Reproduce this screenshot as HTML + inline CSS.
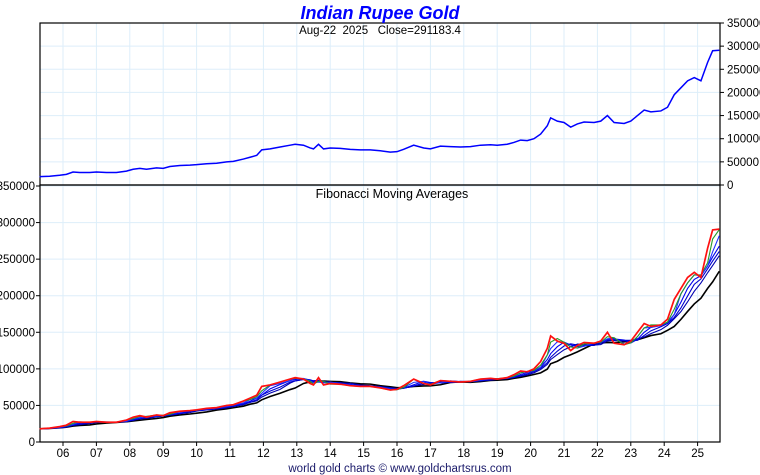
<!DOCTYPE html>
<html><head><meta charset="utf-8"><style>
body{margin:0;background:#fff;}
svg{display:block;font-family:"Liberation Sans",sans-serif;}
</style></head><body>
<svg id="c" width="760" height="475"></svg>
<script>
const dates=[2005.3,2005.6,2005.9,2006.1,2006.3,2006.5,2006.8,2007.0,2007.3,2007.6,2007.9,2008.1,2008.3,2008.5,2008.8,2009.0,2009.2,2009.5,2009.8,2010.0,2010.3,2010.6,2010.9,2011.1,2011.4,2011.6,2011.8,2011.95,2012.2,2012.5,2012.8,2012.95,2013.2,2013.4,2013.5,2013.65,2013.8,2014.0,2014.3,2014.6,2014.9,2015.2,2015.5,2015.8,2016.0,2016.2,2016.5,2016.8,2017.0,2017.3,2017.6,2017.9,2018.2,2018.5,2018.8,2019.0,2019.3,2019.5,2019.7,2019.9,2020.1,2020.3,2020.5,2020.6,2020.8,2021.0,2021.2,2021.4,2021.6,2021.9,2022.1,2022.3,2022.5,2022.8,2023.0,2023.2,2023.4,2023.6,2023.9,2024.1,2024.3,2024.5,2024.7,2024.9,2025.1,2025.3,2025.45,2025.65];
const prices=[18,19,21,23,28,27,27,28,27,27,30,34,36,34,37,36,40,42,43,44,46,47,50,51,56,60,64,76,78,82,86,88,86,80,78,88,78,80,79,77,76,76,74,71,72,77,86,80,78,84,83,82,83,86,87,86,88,92,97,96,100,110,128,145,138,135,125,132,136,135,138,150,135,133,138,150,162,158,160,168,195,210,225,232,225,265,290,291].map(v=>v*1000);
const xTicks=['06','07','08','09','10','11','12','13','14','15','16','17','18','19','20','21','22','23','24','25'];
const yTicks=[0,50000,100000,150000,200000,250000,300000,350000];
const maWindows=[0.25,0.4,0.6,0.8,1.0,1.6];
const maColors=['#2a9a2a','#2030ff','#0000ee','#0000d0','#0000b0','#000000'];

const S=document.getElementById('c'),NS='http://www.w3.org/2000/svg';
function el(t,a,p){const e=document.createElementNS(NS,t);for(const k in a)e.setAttribute(k,a[k]);(p||S).appendChild(e);return e;}
const L=40,R=720;
const X=d=>63+(d-2006)*33.4;
const Yt=v=>185-v*162/350000;
const Yb=v=>442-v*256/350000;

const g=el('g',{});
xTicks.forEach((t,i)=>{const x=X(2006+i);
 el('line',{x1:x,x2:x,y1:23,y2:185,stroke:'#ddeefa'},g);
 el('line',{x1:x,x2:x,y1:185,y2:442,stroke:'#ddeefa'},g);});
yTicks.forEach(v=>{
 el('line',{x1:L,x2:R,y1:Yt(v),y2:Yt(v),stroke:'#ddeefa'},g);
 el('line',{x1:L,x2:R,y1:Yb(v),y2:Yb(v),stroke:'#ddeefa'},g);});

el('rect',{x:L,y:23,width:R-L,height:162,fill:'none',stroke:'#000','stroke-width':1.2,});
el('rect',{x:L,y:185,width:R-L,height:257,fill:'none',stroke:'#000','stroke-width':1.2,});

yTicks.forEach(v=>{
 el('line',{x1:R,x2:R+4,y1:Yt(v),y2:Yt(v),stroke:'#000'});
 const t=el('text',{x:R+7,y:Yt(v)+4,'font-size':11.5,fill:'#000'});t.textContent=v;
 
 el('line',{x1:L-4,x2:L,y1:Yb(v),y2:Yb(v),stroke:'#000'});
 const t2=el('text',{x:L-5,y:Yb(v)+4,'font-size':11.5,'text-anchor':'end',fill:'#000'});t2.textContent=v;
 
});
xTicks.forEach((s,i)=>{const x=X(2006+i);
 el('line',{x1:x,x2:x,y1:442,y2:446,stroke:'#000'});
 const t=el('text',{x:x,y:457,'font-size':11.5,'text-anchor':'middle',fill:'#000'});t.textContent=s;
 });

const pl=el('polyline',{points:dates.map((d,i)=>X(d)+','+Yt(prices[i])).join(' '),fill:'none',stroke:'#0000ff','stroke-width':1.5});


function ma(w){return dates.map((d,i)=>{let s=0,n=0;for(let j=0;j<=i;j++){if(dates[j]>d-w){s+=prices[j];n++;}}return s/n;});}
for(let k=maWindows.length-1;k>=0;k--){
 const m=ma(maWindows[k]);
 const p=el('polyline',{points:dates.map((d,i)=>X(d)+','+Yb(m[i])).join(' '),fill:'none',stroke:maColors[k],'stroke-width':k==5?1.6:1.1});
 
}
const rl=el('polyline',{points:dates.map((d,i)=>X(d)+','+Yb(prices[i])).join(' '),fill:'none',stroke:'#ff1010','stroke-width':1.7});


let t=el('text',{x:380,y:19,'font-size':18,'font-weight':'bold','font-style':'italic','text-anchor':'middle',fill:'#0000ff'});t.textContent='Indian Rupee Gold';

t=el('text',{x:380,y:34,'font-size':11.5,'text-anchor':'middle',fill:'#000',style:'white-space:pre'});t.textContent='Aug-22  2025   Close=291183.4';

t=el('text',{x:392,y:198,'font-size':12.5,'text-anchor':'middle',fill:'#000'});t.textContent='Fibonacci Moving Averages';

t=el('text',{x:400,y:472,'font-size':11.5,'text-anchor':'middle',fill:'#1a1a6a'});t.textContent='world gold charts \u00a9 www.goldchartsrus.com';

</script>
</body></html>
